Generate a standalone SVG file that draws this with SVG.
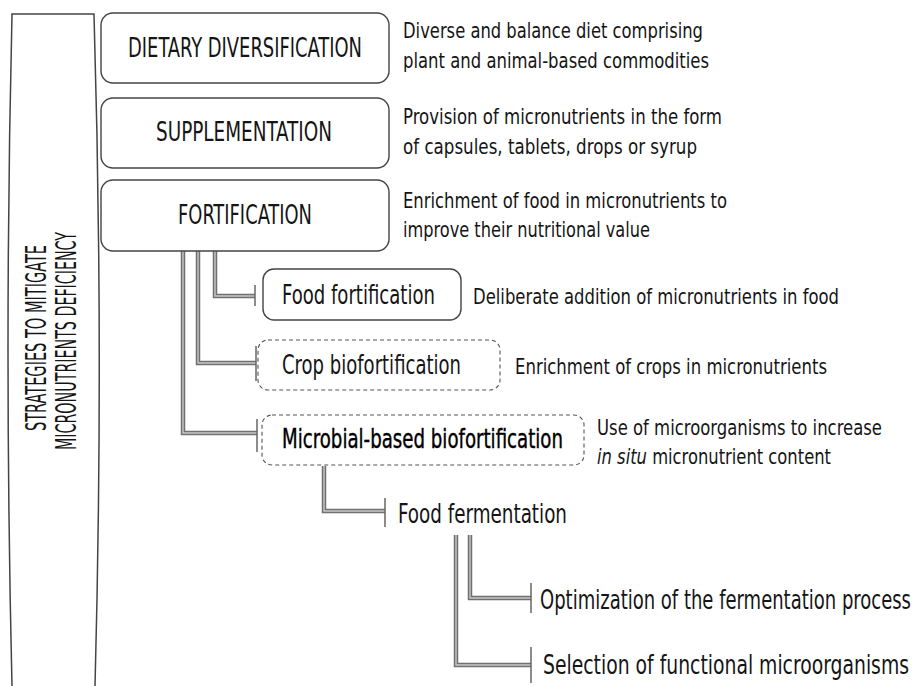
<svg xmlns="http://www.w3.org/2000/svg" width="915" height="686" viewBox="0 0 915 686">
<style>
  text { font-family: "Liberation Sans Narrow", "DejaVu Sans Condensed", "Liberation Sans", sans-serif; fill: #151515; }
  .title { font-size: 27px; }
  .sub { font-size: 26px; }
  .desc { font-size: 22px; }
  .vert { font-size: 28px; }
  .box { fill: #fff; stroke: #444; stroke-width: 1.4; }
  .dbox { fill: #fff; stroke: #555; stroke-width: 1.1; stroke-dasharray: 4 3; }
  .bracket { fill: none; stroke: #444; stroke-width: 1.5; }
  .cout { fill: none; stroke: #707070; stroke-width: 4.5; stroke-linejoin: miter; }
  .cin { fill: none; stroke: #c8c8c8; stroke-width: 1.4; stroke-linejoin: miter; }
  .tick { fill: none; stroke: #666; stroke-width: 1.5; }
</style>

<g id="bracket">
  <path class="bracket" d="M12,686 Q4,350 12,14 H94 Q104,350 95,686"/>
  <text class="vert" transform="translate(46,338) rotate(-90)" text-anchor="middle" textLength="186" lengthAdjust="spacingAndGlyphs">STRATEGIES TO MITIGATE</text>
  <text class="vert" transform="translate(76,341) rotate(-90)" text-anchor="middle" textLength="218" lengthAdjust="spacingAndGlyphs">MICRONUTRIENTS DEFICIENCY</text>
</g>

<g id="connectors">
  <path class="cout" d="M215,251 V296 H255"/>
  <path class="cin" d="M215,251 V296 H255"/>
  <path class="tick" d="M255,285 V306"/>
  <path class="cout" d="M198,251 V363 H256"/>
  <path class="cin" d="M198,251 V363 H256"/>
  <path class="tick" d="M256,346 V381"/>
  <path class="cout" d="M183,251 V433 H257"/>
  <path class="cin" d="M183,251 V433 H257"/>
  <path class="tick" d="M257,419 V452"/>
  <path class="cout" d="M324,466 V511 H385"/>
  <path class="cin" d="M324,466 V511 H385"/>
  <path class="tick" d="M385,498 V527"/>
  <path class="cout" d="M470,535 V598 H531"/>
  <path class="cin" d="M470,535 V598 H531"/>
  <path class="tick" d="M531,583 V613"/>
  <path class="cout" d="M456,535 V665 H531"/>
  <path class="cin" d="M456,535 V665 H531"/>
  <path class="tick" d="M531,647 V683"/>
</g>

<g id="dietary">
  <rect class="box" x="101" y="13" width="288" height="70" rx="12"/>
  <text class="title" x="128" y="57" textLength="234" lengthAdjust="spacingAndGlyphs">DIETARY DIVERSIFICATION</text>
  <text class="desc" x="403" y="38" textLength="300" lengthAdjust="spacingAndGlyphs">Diverse and balance diet comprising</text>
  <text class="desc" x="403" y="68" textLength="306" lengthAdjust="spacingAndGlyphs">plant and animal-based commodities</text>
</g>

<g id="supplementation">
  <rect class="box" x="101" y="98" width="288" height="70" rx="12"/>
  <text class="title" x="156" y="141" textLength="176" lengthAdjust="spacingAndGlyphs">SUPPLEMENTATION</text>
  <text class="desc" x="403" y="124" textLength="319" lengthAdjust="spacingAndGlyphs">Provision of micronutrients in the form</text>
  <text class="desc" x="403" y="154" textLength="294" lengthAdjust="spacingAndGlyphs">of capsules, tablets, drops or syrup</text>
</g>

<g id="fortification">
  <rect class="box" x="101" y="180" width="288" height="71" rx="12"/>
  <text class="title" x="178" y="224" textLength="134" lengthAdjust="spacingAndGlyphs">FORTIFICATION</text>
  <text class="desc" x="403" y="208" textLength="324" lengthAdjust="spacingAndGlyphs">Enrichment of food in micronutrients to</text>
  <text class="desc" x="403" y="237" textLength="247" lengthAdjust="spacingAndGlyphs">improve their nutritional value</text>
</g>

<g id="food-fortification">
  <rect class="box" x="263" y="269" width="198" height="51" rx="11"/>
  <text class="sub" x="282" y="304" textLength="153" lengthAdjust="spacingAndGlyphs">Food fortification</text>
  <text class="desc" x="473" y="304" textLength="366" lengthAdjust="spacingAndGlyphs">Deliberate addition of micronutrients in food</text>
</g>

<g id="crop-biofortification">
  <rect class="dbox" x="258" y="340" width="242" height="50" rx="10"/>
  <text class="sub" x="282" y="374" textLength="179" lengthAdjust="spacingAndGlyphs">Crop biofortification</text>
  <text class="desc" x="515" y="374" textLength="312" lengthAdjust="spacingAndGlyphs">Enrichment of crops in micronutrients</text>
</g>

<g id="microbial-biofortification">
  <rect class="dbox" x="262" y="415" width="322" height="50" rx="10"/>
  <text class="sub" x="282" y="448" textLength="281" lengthAdjust="spacingAndGlyphs" style="fill:#000;stroke:#000;stroke-width:0.4">Microbial-based biofortification</text>
  <text class="desc" x="597" y="435" textLength="285" lengthAdjust="spacingAndGlyphs">Use of microorganisms to increase</text>
  <text class="desc" x="597" y="464" textLength="234" lengthAdjust="spacingAndGlyphs"><tspan font-style="italic">in situ</tspan> micronutrient content</text>
</g>

<g id="food-fermentation">
  <text class="sub" x="398" y="523" textLength="169" lengthAdjust="spacingAndGlyphs">Food fermentation</text>
</g>

<g id="optimization">
  <text class="sub" x="540" y="609" textLength="371" lengthAdjust="spacingAndGlyphs">Optimization of the fermentation process</text>
</g>

<g id="selection">
  <text class="sub" x="543" y="674" textLength="366" lengthAdjust="spacingAndGlyphs">Selection of functional microorganisms</text>
</g>
</svg>
